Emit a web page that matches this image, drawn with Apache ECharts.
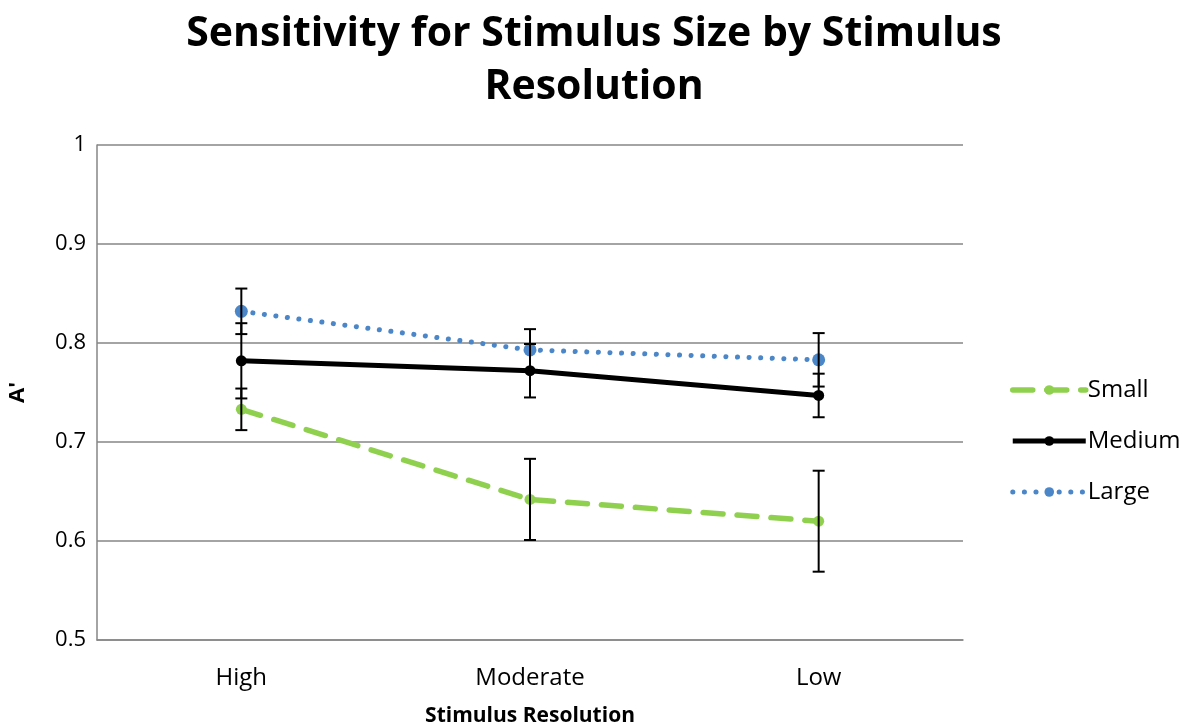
<!DOCTYPE html>
<html><head><meta charset="utf-8">
<script src="https://cdn.jsdelivr.net/npm/echarts@6/dist/echarts.min.js"></script>
<style>html,body{margin:0;padding:0;background:#fff}#c{width:1181px;height:728px}</style>
</head><body><div id="c"></div>
<script>
const categories = ['High', 'Moderate', 'Low'];
const smallVals = [0.733, 0.642, 0.620];
const smallErr = [0.021, 0.041, 0.051];
const mediumVals = [0.782, 0.772, 0.747];
const mediumErr = [0.038, 0.027, 0.022];
const largeVals = [0.832, 0.793, 0.783];
const largeErr = [0.023, 0.021, 0.027];
const seriesNames = ['Small', 'Medium', 'Large'];

const FONT = '"Open Sans", Lato, sans-serif';
const chart = echarts.init(document.getElementById('c'));

function errData(vals, errs) {
  return vals.map((v, i) => [i, v - errs[i], v + errs[i]]);
}
function errSeries(vals, errs) {
  return {
    type: 'custom', silent: true, z: 10, legendHoverLink: false,
    data: errData(vals, errs),
    renderItem: function (params, api) {
      const x = api.value(0);
      const lo = api.coord([x, api.value(1)]);
      const hi = api.coord([x, api.value(2)]);
      const hw = 6;
      const st = { stroke: '#000', lineWidth: 2 };
      return { type: 'group', children: [
        { type: 'line', shape: { x1: lo[0], y1: lo[1], x2: hi[0], y2: hi[1] }, style: st },
        { type: 'line', shape: { x1: lo[0] - hw, y1: lo[1], x2: lo[0] + hw, y2: lo[1] }, style: st },
        { type: 'line', shape: { x1: hi[0] - hw, y1: hi[1], x2: hi[0] + hw, y2: hi[1] }, style: st }
      ]};
    }
  };
}

chart.setOption({
  animation: false,
  title: {
    text: 'Sensitivity for Stimulus Size by Stimulus\nResolution',
    left: 589, textAlign: 'center', top: 3,
    textStyle: { fontFamily: FONT, fontWeight: 'bold', fontSize: 41, lineHeight: 53, color: '#000' }
  },
  legend: {
    orient: 'vertical', left: 1005, top: 368, itemGap: 17,
    itemWidth: 73, itemHeight: 12,
    lineStyle: { width: 'inherit' },
    textStyle: { fontFamily: FONT, fontSize: 24, lineHeight: 34, color: '#000', padding: [0, 0, 0, -3] },
    data: seriesNames
  },
  grid: { left: 97, right: 218, top: 145, bottom: 88, outerBoundsMode: 'none' },
  xAxis: {
    type: 'category', data: categories, boundaryGap: true,
    axisLine: { lineStyle: { color: '#868686', width: 1.5 } },
    axisTick: { show: false },
    axisLabel: { fontFamily: FONT, fontSize: 24, color: '#000', margin: 26 },
    name: 'Stimulus Resolution', nameLocation: 'middle', nameGap: 66,
    nameTextStyle: { fontFamily: FONT, fontWeight: 'bold', fontSize: 21, color: '#000' }
  },
  yAxis: {
    type: 'value', min: 0.5, max: 1, interval: 0.1,
    axisLine: { show: true, lineStyle: { color: '#868686', width: 1.5 } },
    axisTick: { show: false },
    splitLine: { lineStyle: { color: '#868686', width: 1.5 } },
    axisLabel: { fontFamily: FONT, fontSize: 22, color: '#000', margin: 11,
      formatter: v => String(Math.round(v * 10) / 10) },
    name: "A'", nameLocation: 'middle', nameGap: 68, nameRotate: 90,
    nameTextStyle: { fontFamily: FONT, fontWeight: 'bold', fontSize: 22, color: '#000' }
  },
  series: [
    { name: 'Small', type: 'line', data: smallVals, symbol: 'circle', symbolSize: 11,
      itemStyle: { color: '#8fd14f' },
      lineStyle: { color: '#8fd14f', width: 5.5, type: [20, 14], cap: 'round' } },
    { name: 'Medium', type: 'line', data: mediumVals, symbol: 'circle', symbolSize: 11,
      itemStyle: { color: '#000' },
      lineStyle: { color: '#000', width: 5 } },
    { name: 'Large', type: 'line', data: largeVals, symbol: 'circle', symbolSize: 13,
      itemStyle: { color: '#4a86c8' },
      lineStyle: { color: '#4a86c8', width: 5, type: [0.1, 11.5], cap: 'round' } },
    errSeries(smallVals, smallErr),
    errSeries(mediumVals, mediumErr),
    errSeries(largeVals, largeErr)
  ]
});
</script></body></html>
